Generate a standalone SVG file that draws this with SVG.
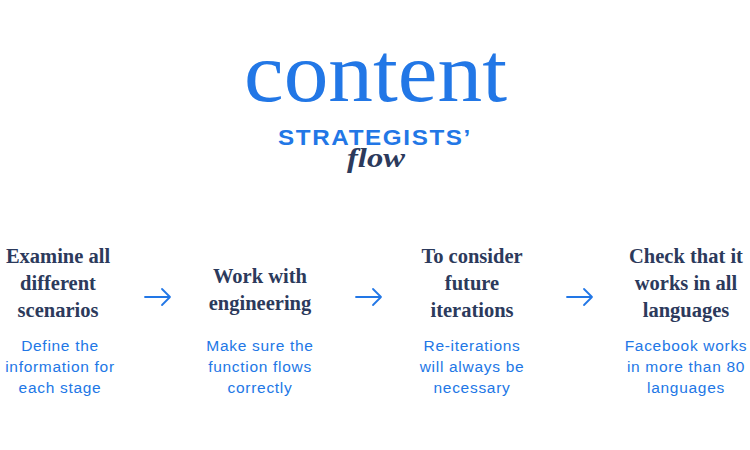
<svg xmlns="http://www.w3.org/2000/svg" width="750" height="450" viewBox="0 0 750 450">
<defs>
<style>
.title{font-family:"Liberation Serif",serif;font-size:84px;fill:#2277e6}
.sub{font-family:"Liberation Sans",sans-serif;font-weight:bold;font-size:22px;fill:#2277e6;letter-spacing:1.5px}
.flow{font-family:"Liberation Serif",serif;font-style:italic;font-weight:bold;font-size:28px;fill:#2c3a5c}
.head{font-family:"Liberation Serif",serif;font-weight:bold;font-size:20.5px;fill:#2c3a5c;text-anchor:middle}
.desc{font-family:"Liberation Sans",sans-serif;font-size:15.5px;fill:#2277e6;text-anchor:middle;letter-spacing:0.7px}
.arr{fill:none;stroke:#2277e6;stroke-width:1.8;stroke-linecap:round;stroke-linejoin:round}
</style>
</defs>
<rect width="750" height="450" fill="#ffffff"/>
<g id="title">
<text class="title" x="244" y="101" textLength="263" lengthAdjust="spacingAndGlyphs">content</text>
<text class="sub" x="278" y="145" textLength="194" lengthAdjust="spacingAndGlyphs">STRATEGISTS’</text>
<text class="flow" x="347" y="167" textLength="58" lengthAdjust="spacingAndGlyphs">flow</text>
</g>
<g id="step1">
<text class="head" x="58" y="263">Examine all</text>
<text class="head" x="58" y="290">different</text>
<text class="head" x="58" y="317">scenarios</text>
<text class="desc" x="60" y="351">Define the</text>
<text class="desc" x="60" y="372">information for</text>
<text class="desc" x="60" y="393">each stage</text>
</g>
<g id="step2">
<text class="head" x="260" y="283">Work with</text>
<text class="head" x="260" y="310">engineering</text>
<text class="desc" x="260" y="351">Make sure the</text>
<text class="desc" x="260" y="372">function flows</text>
<text class="desc" x="260" y="393">correctly</text>
</g>
<g id="step3">
<text class="head" x="472" y="263">To consider</text>
<text class="head" x="472" y="290">future</text>
<text class="head" x="472" y="317">iterations</text>
<text class="desc" x="472" y="351">Re-iterations</text>
<text class="desc" x="472" y="372">will always be</text>
<text class="desc" x="472" y="393">necessary</text>
</g>
<g id="step4">
<text class="head" x="686" y="263">Check that it</text>
<text class="head" x="686" y="290">works in all</text>
<text class="head" x="686" y="317">languages</text>
<text class="desc" x="686" y="351">Facebook works</text>
<text class="desc" x="686" y="372">in more than 80</text>
<text class="desc" x="686" y="393">languages</text>
</g>
<g id="connectors">
<path class="arr" d="M145 297H170M162 289L170 297L162 305"/>
<path class="arr" d="M356 297H381M373 289L381 297L373 305"/>
<path class="arr" d="M567 297H592M584 289L592 297L584 305"/>
</g>
</svg>
